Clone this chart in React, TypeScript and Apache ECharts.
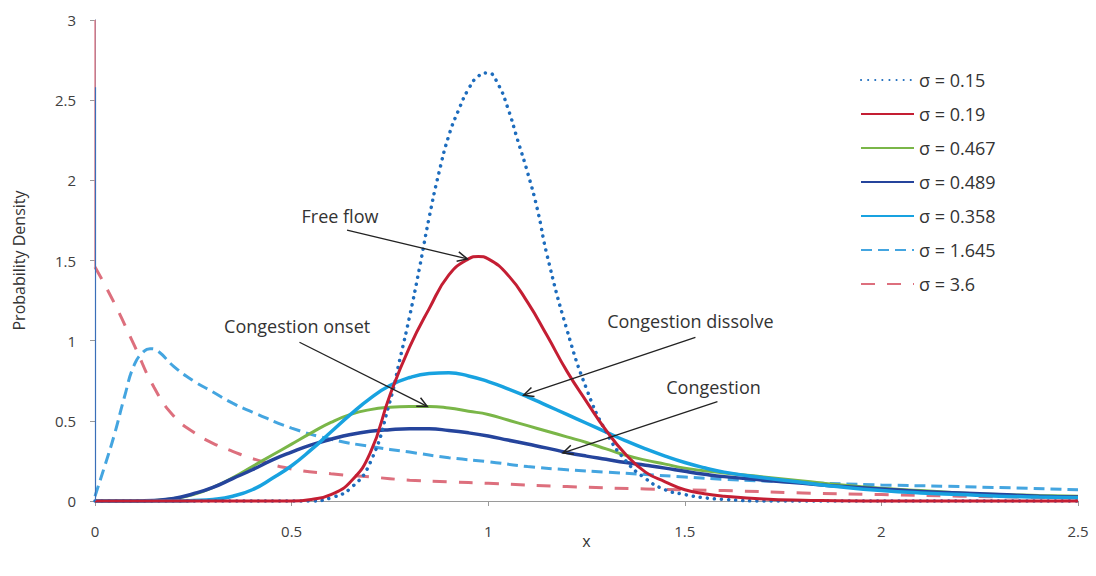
import React, { useEffect, useRef } from "react";
import * as echarts from "echarts";

// ---- Data (x, probability density) ----
const sigma015: [number, number][] = [
  [0, 0], [0.5, 0], [0.55, 0], [0.6, 0.02], [0.65, 0.08], [0.7, 0.24], [0.75, 0.62], [0.775, 0.88],
  [0.8, 1.15], [0.825, 1.45], [0.85, 1.77], [0.875, 2.05], [0.9, 2.28], [0.925, 2.44], [0.95, 2.57],
  [0.975, 2.65], [1.0, 2.67], [1.025, 2.6], [1.05, 2.45], [1.075, 2.25], [1.1, 2.05], [1.125, 1.82],
  [1.15, 1.53], [1.2, 1.07], [1.25, 0.7], [1.3, 0.43], [1.35, 0.25], [1.4, 0.14], [1.45, 0.07],
  [1.5, 0.04], [1.55, 0.02], [1.6, 0.01], [1.7, 0], [2.5, 0],
];
const sigma019: [number, number][] = [
  [0, 0], [0.5, 0], [0.55, 0.01], [0.6, 0.04], [0.65, 0.12], [0.7, 0.3], [0.75, 0.66], [0.8, 0.96],
  [0.85, 1.2], [0.9, 1.41], [0.95, 1.51], [0.975, 1.525], [1.0, 1.51], [1.05, 1.41], [1.1, 1.24],
  [1.15, 1.03], [1.2, 0.81], [1.25, 0.62], [1.3, 0.44], [1.35, 0.29], [1.4, 0.18], [1.45, 0.12],
  [1.5, 0.07], [1.55, 0.045], [1.6, 0.03], [1.7, 0.012], [1.8, 0.005], [2.0, 0], [2.5, 0],
];
const sigma0467: [number, number][] = [
  [0, 0], [0.1, 0], [0.15, 0.003], [0.2, 0.015], [0.25, 0.04], [0.3, 0.085], [0.35, 0.145],
  [0.4, 0.215], [0.45, 0.285], [0.5, 0.355], [0.55, 0.425], [0.6, 0.49], [0.65, 0.54], [0.7, 0.57],
  [0.75, 0.585], [0.8, 0.59], [0.85, 0.59], [0.9, 0.58], [0.95, 0.56], [1.0, 0.54], [1.05, 0.505],
  [1.1, 0.47], [1.15, 0.435], [1.2, 0.4], [1.25, 0.365], [1.3, 0.325], [1.35, 0.285], [1.4, 0.255],
  [1.45, 0.23], [1.5, 0.205], [1.6, 0.175], [1.7, 0.15], [1.8, 0.125], [1.9, 0.1], [2.0, 0.08],
  [2.1, 0.065], [2.2, 0.05], [2.3, 0.04], [2.4, 0.035], [2.5, 0.03],
];
const sigma0489: [number, number][] = [
  [0, 0], [0.1, 0], [0.15, 0.003], [0.2, 0.015], [0.25, 0.045], [0.3, 0.085], [0.35, 0.14],
  [0.4, 0.195], [0.45, 0.255], [0.5, 0.305], [0.55, 0.35], [0.6, 0.385], [0.65, 0.415], [0.7, 0.435],
  [0.75, 0.445], [0.8, 0.45], [0.85, 0.45], [0.9, 0.44], [0.95, 0.425], [1.0, 0.405], [1.05, 0.38],
  [1.1, 0.355], [1.15, 0.33], [1.2, 0.303], [1.25, 0.28], [1.3, 0.26], [1.35, 0.24], [1.4, 0.223],
  [1.45, 0.205], [1.5, 0.185], [1.55, 0.167], [1.6, 0.152], [1.7, 0.13], [1.8, 0.11], [1.9, 0.09],
  [2.0, 0.075], [2.1, 0.06], [2.2, 0.05], [2.3, 0.04], [2.4, 0.03], [2.5, 0.025],
];
const sigma0358: [number, number][] = [
  [0, 0], [0.2, 0], [0.25, 0.003], [0.3, 0.01], [0.35, 0.03], [0.4, 0.07], [0.45, 0.14], [0.5, 0.22],
  [0.55, 0.32], [0.6, 0.43], [0.65, 0.54], [0.7, 0.64], [0.75, 0.72], [0.8, 0.77], [0.85, 0.795],
  [0.9, 0.8], [0.95, 0.78], [1.0, 0.745], [1.05, 0.7], [1.1, 0.65], [1.15, 0.595], [1.2, 0.54],
  [1.25, 0.485], [1.3, 0.43], [1.35, 0.375], [1.4, 0.325], [1.45, 0.28], [1.5, 0.24], [1.55, 0.207],
  [1.6, 0.18], [1.7, 0.145], [1.8, 0.115], [1.9, 0.087], [2.0, 0.065], [2.1, 0.05], [2.2, 0.04],
  [2.3, 0.03], [2.4, 0.025], [2.5, 0.02],
];
const sigma1645: [number, number][] = [
  [0, 0.03], [0.025, 0.22], [0.05, 0.42], [0.075, 0.65], [0.1, 0.85], [0.125, 0.935], [0.14, 0.95],
  [0.16, 0.935], [0.2, 0.84], [0.25, 0.75], [0.3, 0.68], [0.35, 0.61], [0.4, 0.555], [0.5, 0.455],
  [0.6, 0.385], [0.7, 0.34], [0.8, 0.305], [0.9, 0.27], [1.0, 0.245], [1.1, 0.215], [1.2, 0.195],
  [1.3, 0.18], [1.4, 0.165], [1.5, 0.15], [1.6, 0.135], [1.7, 0.125], [1.8, 0.115], [2.0, 0.1],
  [2.2, 0.09], [2.5, 0.07],
];
const sigma36: [number, number][] = [
  [0, 1.46], [0.05, 1.23], [0.1, 0.97], [0.15, 0.71], [0.2, 0.53], [0.25, 0.43], [0.3, 0.36],
  [0.35, 0.31], [0.4, 0.265], [0.5, 0.2], [0.6, 0.17], [0.7, 0.15], [0.8, 0.13], [0.9, 0.12],
  [1.0, 0.11], [1.2, 0.09], [1.4, 0.075], [1.6, 0.065], [1.8, 0.05], [2.0, 0.04], [2.2, 0.03],
  [2.5, 0.02],
];

const legendNames = ["σ = 0.15", "σ = 0.19", "σ = 0.467", "σ = 0.489", "σ = 0.358", "σ = 1.645", "σ = 3.6"];

// annotations (data coordinates)
const annotationLabels = ["Free flow", "Congestion onset", "Congestion dissolve", "Congestion"];
const annotationTextPos: [number, number][] = [[0.623, 1.775], [0.514, 1.09], [1.514, 1.12], [1.573, 0.71]];
const arrowFrom: [number, number][] = [[0.641, 1.69], [0.52, 0.99], [1.527, 1.02], [1.583, 0.62]];
const arrowTo: [number, number][] = [[0.947, 1.51], [0.845, 0.59], [1.09, 0.66], [1.19, 0.3]];

const FONT = "'Open Sans', sans-serif";

export default function App() {
  const ref = useRef<HTMLDivElement>(null);
  useEffect(() => {
    if (!ref.current) return;
    const chart = echarts.init(ref.current, undefined, { renderer: "svg" });
    const line = (name: string, data: [number, number][], color: string, width: number, type: any, cap = "butt") => ({
      name,
      type: "line",
      data,
      showSymbol: false,
      symbol: "circle",
      smooth: 0.5,
      clip: false,
      lineStyle: { color, width, type, cap },
      itemStyle: { color },
    });
    const pink = line(legendNames[6], sigma36, "#dd6f7d", 3, [14, 12]) as any;
    pink.markLine = {
      silent: true,
      symbol: "none",
      label: { show: false },
      lineStyle: { color: "#e58a95", width: 1.5, type: "solid" },
      data: [[{ coord: [0, 1.46] }, { coord: [0, 3] }]],
    };
    const lightDash = line(legendNames[5], sigma1645, "#44a5e0", 3, [11, 6]) as any;
    lightDash.markLine = {
      silent: true,
      symbol: "none",
      label: { show: false },
      lineStyle: { color: "#3a6fb8", width: 1.2, type: "solid" },
      data: [[{ coord: [0, 0] }, { coord: [0, 2.58] }]],
    };
    chart.setOption({
      animation: false,
      backgroundColor: "#ffffff",
      grid: { left: 95, right: 18, top: 20, bottom: 75 },
      legend: {
        data: legendNames,
        orient: "vertical",
        left: 855,
        top: 66,
        itemWidth: 53,
        itemHeight: 14,
        itemGap: 16,
        itemStyle: { opacity: 0 },
        textStyle: { fontFamily: FONT, fontSize: 18, color: "#333" },
      },
      xAxis: {
        type: "value",
        min: 0,
        max: 2.5,
        interval: 0.5,
        name: "x",
        nameLocation: "middle",
        nameGap: 32,
        nameMoveOverlap: false,
        nameTextStyle: { fontFamily: FONT, fontSize: 16, color: "#333" },
        axisLine: { show: true, lineStyle: { color: "#9a9a9a", width: 1 } },
        axisTick: { show: true, length: 5, lineStyle: { color: "#9a9a9a" } },
        axisLabel: { fontFamily: FONT, fontSize: 15, color: "#404040", margin: 22 },
        splitLine: { show: false },
      },
      yAxis: {
        type: "value",
        min: 0,
        max: 3,
        interval: 0.5,
        name: "Probability Density",
        nameLocation: "middle",
        nameGap: 68,
        nameTextStyle: { fontFamily: FONT, fontSize: 16, color: "#333" },
        axisLine: { show: true, lineStyle: { color: "#4a5a85", width: 1 } },
        axisTick: { show: true, length: 5, lineStyle: { color: "#9a9a9a" } },
        axisLabel: { fontFamily: FONT, fontSize: 15, color: "#404040", margin: 19 },
        splitLine: { show: false },
      },
      series: [
        pink,
        lightDash,
        line(legendNames[2], sigma0467, "#7ab648", 3, "solid"),
        line(legendNames[3], sigma0489, "#25449c", 3.5, "solid"),
        line(legendNames[4], sigma0358, "#18a2e0", 3.5, "solid"),
        line(legendNames[0], sigma015, "#1d6cbd", 3.5, [0.1, 7], "round"),
        line(legendNames[1], sigma019, "#c41e33", 3, "solid"),
      ],
    });

    const toPx = (p: [number, number]) => chart.convertToPixel({ gridIndex: 0 }, p) as number[];
    const graphics: any[] = [];
    annotationLabels.forEach((label, i) => {
      const t = toPx(annotationTextPos[i]);
      graphics.push({
        type: "text",
        x: t[0],
        y: t[1],
        z: 100,
        style: { text: label, fill: "#333", font: `18px ${FONT}`, align: "center", verticalAlign: "middle" },
      });
      const a = toPx(arrowFrom[i]);
      const b = toPx(arrowTo[i]);
      graphics.push({
        type: "line",
        z: 100,
        shape: { x1: a[0], y1: a[1], x2: b[0], y2: b[1] },
        style: { stroke: "#222", lineWidth: 1.3 },
      });
      const ang = Math.atan2(b[1] - a[1], b[0] - a[0]);
      const L = 11;
      const s = 0.45;
      graphics.push({
        type: "polyline",
        z: 100,
        shape: {
          points: [
            [b[0] - L * Math.cos(ang - s), b[1] - L * Math.sin(ang - s)],
            [b[0], b[1]],
            [b[0] - L * Math.cos(ang + s), b[1] - L * Math.sin(ang + s)],
          ],
        },
        style: { stroke: "#222", lineWidth: 1.5, fill: "none" },
      });
    });
    chart.setOption({ graphic: graphics });

    return () => chart.dispose();
  }, []);
  return <div ref={ref} style={{ width: 1096, height: 576, position: "absolute", left: 0, top: 0 }} />;
}
